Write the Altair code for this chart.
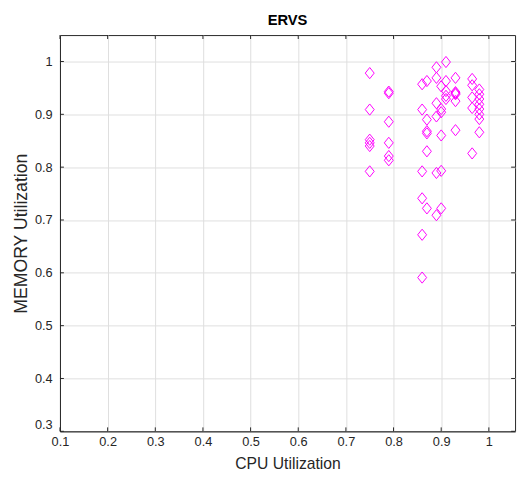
import altair as alt
import pandas as pd

# CPU utilization column values and memory utilization values
cpu = (
    [0.75] * 6 + [0.79] * 6 + [0.86] * 6 + [0.87] * 6 + [0.89] * 6 + [0.90] * 6
    + [0.91] * 5 + [0.93] * 6 + [0.965] * 5 + [0.98] * 8
)
mem = [
    0.978, 0.909, 0.852, 0.846, 0.840, 0.792,
    0.943, 0.940, 0.886, 0.846, 0.821, 0.813,
    0.957, 0.909, 0.792, 0.741, 0.672, 0.591,
    0.963, 0.890, 0.868, 0.864, 0.830, 0.722,
    0.989, 0.969, 0.921, 0.896, 0.789, 0.709,
    0.953, 0.910, 0.904, 0.860, 0.793, 0.722,
    0.999, 0.963, 0.944, 0.935, 0.929,
    0.969, 0.942, 0.940, 0.938, 0.925, 0.870,
    0.967, 0.955, 0.932, 0.912, 0.826,
    0.947, 0.938, 0.929, 0.919, 0.910, 0.900, 0.891, 0.866,
]
x_ticks = [0.1, 0.2, 0.3, 0.4, 0.5, 0.6, 0.7, 0.8, 0.9, 1.0]
y_ticks = [0.3, 0.4, 0.5, 0.6, 0.7, 0.8, 0.9, 1.0]
x_domain = [0.1, 1.055]
y_domain = [0.3, 1.05]

W, H = 464, 404
TXT = "#262626"
FONT = "Liberation Sans"

df = pd.DataFrame({"cpu": cpu, "mem": mem})
xt = pd.DataFrame({"cpu": x_ticks})
yt = pd.DataFrame({"mem": y_ticks})

xs = alt.Scale(domain=x_domain, nice=False, zero=False)
ys = alt.Scale(domain=y_domain, nice=False, zero=False)
xa = alt.Axis(values=x_ticks, format="~g", grid=True, ticks=False,
              labelPadding=4, titlePadding=8, labelFlush=False, titleFontSize=16)
ya = alt.Axis(values=y_ticks, format="~g", grid=True, ticks=False,
              labelPadding=8, titlePadding=4, labelFlush=True, labelFlushOffset=0,
              titleFontSize=18)
XT, YT = "CPU Utilization", "MEMORY Utilization"

pts = alt.Chart(df).mark_point(
    shape="M0,-1L0.8,0L0,1L-0.8,0Z", size=130, filled=False,
    color="#ff00ff", strokeWidth=1, opacity=1,
).encode(
    x=alt.X("cpu:Q", scale=xs, title=XT, axis=xa),
    y=alt.Y("mem:Q", scale=ys, title=YT, axis=ya),
)

tick_len = 4
xb = alt.Chart(xt).mark_rule(color=TXT, strokeWidth=1).encode(
    x=alt.X("cpu:Q", scale=xs, title=XT, axis=xa), y=alt.value(H), y2=alt.value(H - tick_len))
xtp = alt.Chart(xt).mark_rule(color=TXT, strokeWidth=1).encode(
    x=alt.X("cpu:Q", scale=xs, title=XT, axis=xa), y=alt.value(0), y2=alt.value(tick_len))
yl = alt.Chart(yt).mark_rule(color=TXT, strokeWidth=1).encode(
    y=alt.Y("mem:Q", scale=ys, title=YT, axis=ya), x=alt.value(0), x2=alt.value(tick_len))
yr = alt.Chart(yt).mark_rule(color=TXT, strokeWidth=1).encode(
    y=alt.Y("mem:Q", scale=ys, title=YT, axis=ya), x=alt.value(W), x2=alt.value(W - tick_len))

chart = alt.layer(pts, xb, xtp, yl, yr).properties(
    width=W, height=H,
    background="white",
    title=alt.TitleParams("ERVS", fontSize=15, fontWeight="bold", font=FONT,
                          color="#000000", offset=7),
    padding={"left": 4, "right": 2, "top": 0, "bottom": 2},
).configure_view(
    stroke=TXT, strokeWidth=1,
).configure_axis(
    labelFont=FONT, titleFont=FONT, labelFontSize=13,
    labelColor=TXT, titleColor=TXT, titleFontWeight="normal",
    domainColor=TXT, gridColor="#dedede", gridWidth=1,
)

chart.save("out.html", embed_options={"renderer": "svg", "actions": False})
